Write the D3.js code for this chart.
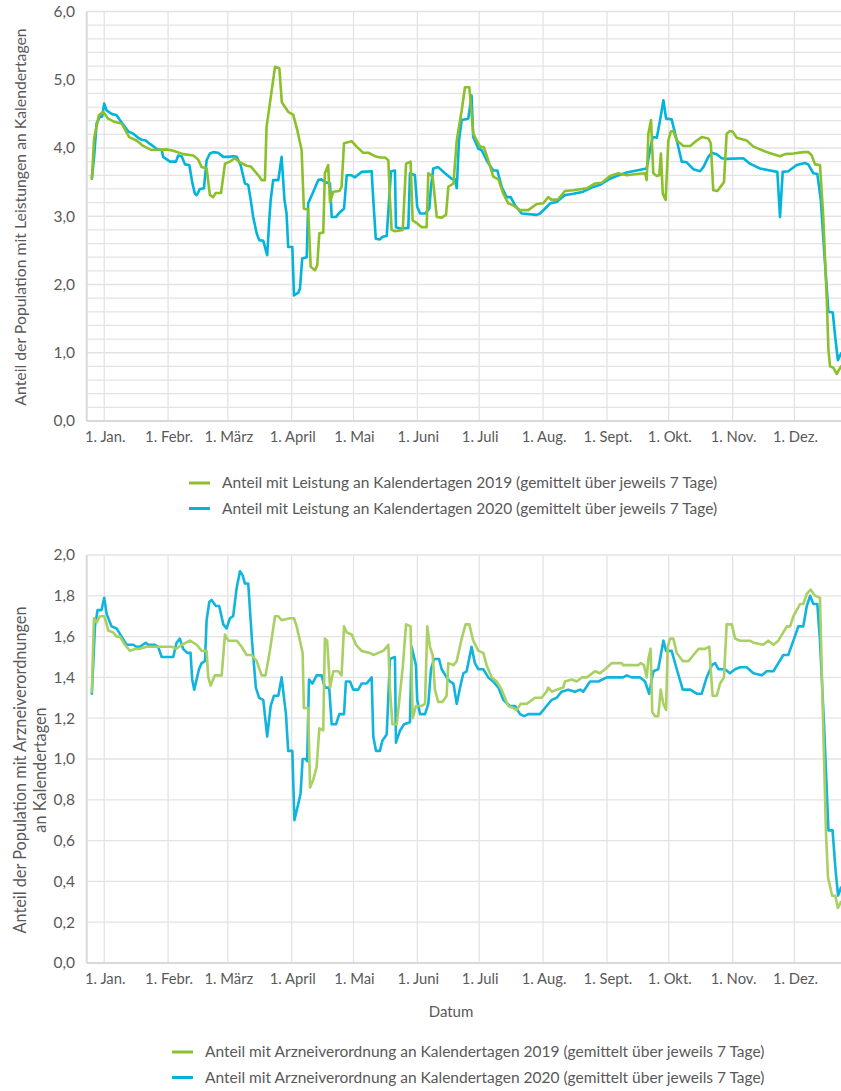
<!DOCTYPE html>
<html lang="de">
<meta charset="UTF-8">
<style>
    body { margin: 0; background: #fff; }
    text { font-family: Lato, "Open Sans", sans-serif; fill: #595959; }
    .grid line { stroke: #e3e3e3; stroke-width: 1.3px; }
    .axisline { stroke: #d9d9d9; stroke-width: 2px; }
    .serie { fill: none; stroke-width: 2.6px; stroke-linejoin: round; stroke-linecap: round; }
</style>
<body>
<svg id="chart" width="841" height="1091"></svg>
<script src="https://d3js.org/d3.v7.min.js"></script>
<script>
// month starts (day of year, 2020 calendar, 1. Jan = 0)
const monthDays = [0, 31, 60, 91, 121, 152, 182, 213, 244, 274, 305, 335];
const monthLabels = ["1. Jan.", "1. Febr.", "1. März", "1. April", "1. Mai", "1. Juni",
    "1. Juli", "1. Aug.", "1. Sept.", "1. Okt.", "1. Nov.", "1. Dez."];

const ticksTop = [0, 1, 2, 3, 4, 5, 6];
const ticksBottom = [0, 0.2, 0.4, 0.6, 0.8, 1.0, 1.2, 1.4, 1.6, 1.8, 2.0];

// [day, value]
const leistung2019 = [[-6,3.55],[-4.9,4.14],[-2.6,4.48],[-0.5,4.53],[1.9,4.43],[5.2,4.38],[8.4,4.36],[12.1,4.16],[15.7,4.11],[18.9,4.03],[23,3.97],[30.3,3.98],[33.5,3.96],[38.4,3.91],[43.2,3.89],[45.6,3.83],[47.3,3.72],[49.7,3.70],[51.3,3.31],[52.9,3.28],[54.1,3.34],[56.7,3.34],[58.6,3.77],[61,3.80],[63.4,3.85],[65.9,3.79],[69.1,3.74],[71.1,3.73],[74.8,3.60],[76.4,3.53],[78,3.53],[78.8,4.31],[80.4,4.65],[82.9,5.19],[85,5.17],[86.2,4.67],[89.3,4.53],[91.7,4.49],[93.8,4.25],[95.8,3.97],[96.9,3.11],[99,3.10],[100.2,2.26],[102.3,2.21],[103.4,2.28],[104.4,2.75],[106.3,2.76],[107.1,3.63],[108.7,3.75],[109.6,3.21],[111.2,3.36],[114.1,3.37],[115.2,3.43],[116.4,4.07],[120.1,4.10],[122.5,4.02],[125.7,3.93],[128.2,3.93],[131.4,3.88],[133.8,3.86],[136.3,3.86],[137.9,3.82],[138.7,3.24],[139.5,2.80],[141.1,2.78],[144.9,2.80],[146.5,3.77],[148.7,3.80],[149.7,2.94],[151.7,2.90],[154.1,2.84],[156.5,2.84],[157.3,3.63],[159.4,3.58],[161.4,2.99],[163.8,2.98],[165.9,3.02],[167,3.43],[169.5,3.48],[171.1,4.11],[173.5,4.55],[175.1,4.89],[177.2,4.89],[179.1,4.21],[182.4,4.02],[184.3,4.01],[186.4,3.82],[188.8,3.58],[191.3,3.54],[193.7,3.33],[196.1,3.19],[198.5,3.16],[201.8,3.09],[205.8,3.09],[209.9,3.18],[213.1,3.19],[215.5,3.28],[217.2,3.24],[220.4,3.25],[223.6,3.37],[227.7,3.38],[234.2,3.41],[238.2,3.48],[241.5,3.49],[245.5,3.59],[249.5,3.63],[253.6,3.60],[258.4,3.62],[262.5,3.63],[263.3,3.53],[264.1,4.21],[265.4,4.41],[266.5,3.63],[268.2,3.59],[269.4,3.60],[270.2,3.92],[271.1,3.33],[272.5,3.24],[273.8,4.11],[275,4.24],[276.2,4.25],[277.9,4.11],[281.1,4.03],[284.4,4.03],[287.6,4.11],[290,4.16],[293.2,4.14],[294.4,4.07],[295.6,3.38],[297.6,3.37],[300.8,3.50],[302.1,4.21],[303.7,4.25],[305,4.24],[307,4.15],[311.8,4.11],[315.1,4.02],[318.3,3.98],[321.5,3.94],[324.8,3.91],[328,3.88],[330.4,3.91],[334.5,3.92],[339.3,3.94],[341.8,3.94],[343.4,3.89],[345,3.76],[347.4,3.75],[349,2.99],[350.7,1.77],[351.5,1.04],[352.3,0.80],[353.9,0.78],[355.5,0.69],[357.6,0.80]];

const leistung2020 = [[-6,3.55],[-4.9,3.87],[-3.7,4.36],[-2.1,4.46],[-1,4.46],[0,4.65],[1.2,4.55],[3.6,4.50],[6,4.48],[7.6,4.41],[10,4.31],[11.7,4.24],[14.1,4.21],[16.5,4.15],[18.2,4.12],[20.2,4.11],[22.2,4.06],[25.4,3.99],[27.9,3.97],[28.6,3.87],[31.9,3.80],[34.8,3.80],[35.9,3.89],[37.6,3.88],[39.2,3.76],[41.3,3.75],[42.7,3.50],[44,3.33],[44.9,3.31],[46.5,3.40],[48.4,3.41],[49.7,3.82],[51.3,3.92],[52.9,3.94],[55.3,3.93],[57.8,3.87],[60.2,3.87],[62.6,3.88],[64.3,3.87],[66.2,3.75],[68.3,3.48],[69.9,3.46],[71.1,3.24],[72.3,2.99],[74,2.75],[75.2,2.65],[77.2,2.64],[79.1,2.43],[80.1,2.94],[80.8,3.24],[82,3.53],[84.5,3.53],[86.1,3.87],[87.5,3.24],[88.5,3.04],[89.3,2.55],[91.3,2.55],[92.1,1.84],[94.2,1.88],[95,1.94],[96.1,2.38],[98.3,2.40],[99,3.19],[101.5,3.36],[103.9,3.53],[105.5,3.54],[107.1,3.50],[109.6,3.48],[110.4,2.99],[112.5,2.99],[114.4,3.06],[116.4,3.11],[117.7,3.60],[120.1,3.60],[121.7,3.57],[125,3.65],[129.8,3.66],[130.6,3.24],[131.8,2.67],[133.8,2.66],[135.1,2.70],[137.1,2.71],[139.2,3.66],[141.1,3.67],[141.6,2.84],[143.6,2.82],[147.6,2.83],[148.4,3.63],[150.8,3.60],[151.9,3.14],[153.3,3.04],[155.7,3.04],[157.8,3.11],[158.6,3.43],[159.7,3.70],[162.1,3.72],[165.4,3.63],[168.6,3.55],[170.2,3.54],[171.1,3.41],[172.2,4.11],[173.5,4.41],[176.7,4.43],[178.3,4.77],[179.1,4.16],[181.6,3.99],[183.2,3.97],[185.6,3.82],[188.8,3.67],[190.8,3.67],[192.9,3.43],[195.3,3.28],[197.3,3.28],[199.4,3.16],[202.6,3.04],[209.9,3.02],[211.5,3.04],[213.9,3.11],[216.4,3.19],[219.6,3.21],[223.6,3.31],[227.7,3.33],[232.5,3.36],[237.4,3.43],[240.6,3.46],[245.5,3.55],[248.7,3.59],[253.6,3.64],[258.4,3.67],[263.3,3.70],[264.9,3.97],[266.2,4.16],[268.2,4.15],[269.8,4.41],[271.4,4.70],[272.7,4.43],[275.4,4.42],[277.9,4.11],[280.3,3.80],[282.7,3.79],[285.9,3.69],[289.2,3.66],[290.8,3.72],[293.2,3.87],[294.9,3.93],[297.3,3.91],[299.7,3.85],[302.1,3.84],[310.2,3.85],[313.4,3.77],[318.3,3.70],[323.1,3.67],[326.7,3.65],[328,2.99],[329.3,3.65],[332,3.66],[336.1,3.75],[340.1,3.78],[341.7,3.76],[344.2,3.63],[346.1,3.62],[347.8,3.24],[349.4,2.50],[351.5,1.60],[353.6,1.59],[354.8,1.23],[356.1,0.89],[357.6,0.99]];

const arznei2019 = [[-6,1.33],[-5,1.69],[-3.7,1.67],[-2.1,1.70],[0,1.70],[1.2,1.66],[1.9,1.63],[4.4,1.62],[6,1.60],[7.6,1.60],[10,1.56],[12.5,1.53],[14.9,1.54],[17.3,1.54],[20.6,1.55],[23.8,1.55],[30.3,1.55],[32.7,1.55],[35.1,1.54],[37.6,1.56],[41.6,1.58],[44.9,1.56],[47.3,1.53],[49.7,1.53],[50.5,1.40],[51.7,1.36],[53.7,1.41],[57,1.41],[58.6,1.61],[60.2,1.58],[64.3,1.58],[66.7,1.55],[69.1,1.51],[71.6,1.51],[74,1.48],[76.4,1.41],[78.3,1.41],[80.4,1.53],[82.9,1.70],[84.5,1.70],[86.1,1.68],[90.1,1.69],[92.1,1.69],[93.4,1.65],[95,1.58],[96.3,1.52],[96.9,1.25],[99,1.25],[99.9,0.86],[101.5,0.90],[103.1,0.96],[104.4,1.15],[106.3,1.14],[107.1,1.59],[108.2,1.58],[109.6,1.35],[111.2,1.43],[113.6,1.43],[115.2,1.41],[116.4,1.65],[117.7,1.62],[120.1,1.61],[122.2,1.56],[124.9,1.53],[128.9,1.52],[130.6,1.51],[133,1.52],[135.5,1.53],[137.9,1.56],[138.7,1.34],[139.9,1.17],[142,1.17],[144.9,1.45],[146.5,1.66],[148.7,1.65],[149.7,1.20],[151.3,1.26],[154.1,1.26],[155.7,1.27],[156.8,1.65],[158.1,1.55],[159.4,1.51],[160.5,1.34],[162.1,1.28],[164.2,1.28],[166.2,1.31],[167,1.47],[169.5,1.46],[171.1,1.48],[173.5,1.59],[175.4,1.66],[177.2,1.66],[179.1,1.58],[181.6,1.53],[184,1.52],[185.6,1.46],[188.1,1.40],[190.5,1.38],[192.9,1.34],[196.1,1.26],[198.5,1.25],[200.2,1.24],[202.1,1.27],[205,1.27],[209.1,1.30],[212.3,1.30],[214.7,1.33],[215.5,1.35],[217.2,1.33],[219.6,1.34],[222.8,1.35],[223.6,1.38],[226.9,1.39],[229.3,1.38],[231.8,1.40],[234.2,1.40],[238.2,1.43],[240.6,1.42],[243.1,1.44],[246.3,1.47],[251.2,1.47],[251.9,1.46],[259.2,1.46],[260.4,1.47],[262,1.46],[263.3,1.40],[264.1,1.49],[265.2,1.54],[266,1.23],[267.3,1.21],[268.9,1.21],[270.1,1.34],[271.4,1.27],[272.7,1.24],[273.5,1.55],[274.6,1.59],[276.2,1.59],[277.9,1.52],[280.8,1.48],[283.6,1.48],[286,1.51],[288.5,1.54],[291.6,1.54],[293.7,1.55],[294.5,1.42],[295.3,1.31],[297.3,1.31],[298.9,1.37],[300.8,1.40],[302.1,1.66],[304.6,1.66],[306.2,1.59],[308.6,1.58],[313.4,1.58],[315.1,1.57],[319.9,1.56],[322.3,1.58],[324.8,1.56],[327.2,1.58],[331.3,1.65],[332.9,1.65],[334.5,1.70],[337.8,1.76],[339.3,1.76],[341,1.81],[342.9,1.83],[345,1.80],[347.4,1.79],[348.7,1.26],[350.3,0.64],[351.3,0.42],[353.3,0.33],[354.8,0.33],[356.1,0.27],[357.6,0.30]];

const arznei2020 = [[-6,1.32],[-4.5,1.65],[-3.2,1.73],[-1.3,1.73],[0,1.79],[1.2,1.71],[3.6,1.65],[6,1.64],[8.4,1.60],[10.9,1.56],[14.1,1.56],[15.7,1.55],[17.3,1.55],[20.1,1.57],[21.4,1.56],[24.6,1.56],[26.2,1.55],[27.9,1.50],[30.3,1.50],[33.5,1.50],[35.1,1.57],[36.7,1.59],[38.3,1.54],[40.3,1.52],[41.9,1.52],[42.7,1.39],[43.7,1.34],[46,1.44],[47.3,1.47],[48.9,1.48],[49.7,1.68],[51,1.77],[52.1,1.78],[54.2,1.75],[55.8,1.75],[57.8,1.66],[59.4,1.64],[61,1.69],[62.6,1.70],[64.3,1.84],[65.9,1.92],[67.2,1.90],[68.3,1.86],[69.9,1.86],[71.8,1.57],[73.6,1.35],[75.2,1.30],[77.2,1.29],[79.1,1.11],[80.8,1.26],[82.4,1.31],[84.5,1.31],[86.1,1.40],[88.2,1.22],[89.3,1.04],[91.3,1.04],[92.3,0.70],[94.2,0.78],[95.3,0.83],[96.3,1.00],[97.9,1.00],[98.5,0.99],[99.4,1.39],[101,1.37],[103.1,1.41],[105.5,1.41],[107.1,1.35],[109.2,1.35],[110.4,1.17],[112.5,1.17],[114.1,1.22],[116.4,1.22],[117.3,1.38],[119.3,1.38],[120.9,1.34],[123.3,1.34],[124.9,1.37],[127.4,1.37],[129.8,1.40],[130.6,1.11],[131.9,1.04],[133.8,1.04],[135,1.09],[137.1,1.12],[138.7,1.49],[141.1,1.50],[141.6,1.08],[143.6,1.14],[145.5,1.17],[148.4,1.18],[149.2,1.55],[151.3,1.46],[151.9,1.29],[153.3,1.22],[155.7,1.22],[157.3,1.27],[158.6,1.44],[160.1,1.49],[162.5,1.49],[163.8,1.44],[166.2,1.40],[167.8,1.38],[169.5,1.37],[171.1,1.27],[172.7,1.35],[174.3,1.42],[175.9,1.43],[178.3,1.55],[179.9,1.47],[181.6,1.44],[184,1.44],[186.4,1.40],[188.8,1.38],[191.3,1.35],[193.7,1.29],[196.9,1.26],[199.4,1.26],[201.8,1.22],[203.8,1.21],[205.8,1.22],[211.5,1.22],[214.7,1.26],[217.2,1.29],[219.6,1.30],[222,1.33],[225.2,1.34],[228.5,1.33],[230.9,1.34],[232.5,1.33],[235.8,1.38],[239.8,1.38],[243.9,1.40],[251.9,1.40],[253.6,1.41],[256,1.40],[260.1,1.40],[262.5,1.38],[264.5,1.32],[266.5,1.43],[268.9,1.44],[271.4,1.58],[272.7,1.53],[275.4,1.53],[277.9,1.44],[280.8,1.34],[284.4,1.34],[287.6,1.32],[290,1.32],[292.4,1.40],[294.9,1.46],[296.5,1.47],[298.1,1.44],[301.3,1.44],[303.7,1.42],[306.2,1.44],[308.6,1.45],[311.8,1.45],[315.1,1.42],[319.2,1.41],[321.5,1.43],[324.8,1.43],[327.2,1.47],[329.6,1.51],[332,1.51],[334.5,1.58],[336.9,1.65],[339.3,1.65],[341,1.75],[342.6,1.80],[344.2,1.76],[346.1,1.76],[347.4,1.58],[349.4,1.16],[351.5,0.65],[353.5,0.65],[355,0.45],[356.2,0.33],[357.6,0.37]];

const svg = d3.select('#chart');
const x = d3.scaleLinear().domain([-8.5, 357.6]).range([86.7, 841]);

function panel(cfg) {
    const y = d3.scaleLinear().domain(cfg.domain).range([cfg.bottom, cfg.top]);
    const g = svg.append('g');

    // horizontal grid every 0.2
    const hLines = d3.range(0, cfg.domain[1] + 0.001, 0.2);
    g.append('g').attr('class', 'grid').selectAll('line').data(hLines)
        .enter().append('line')
            .attr('x1', x.range()[0]).attr('x2', 841)
            .attr('y1', d => y(d)).attr('y2', d => y(d));
    // vertical grid at month starts
    g.append('g').attr('class', 'grid').selectAll('line').data(monthDays)
        .enter().append('line')
            .attr('x1', d => x(d)).attr('x2', d => x(d))
            .attr('y1', cfg.top).attr('y2', cfg.bottom);

    g.append('line').attr('class', 'axisline')
        .attr('x1', x.range()[0]).attr('x2', x.range()[0])
        .attr('y1', cfg.top).attr('y2', cfg.bottom);
    g.append('line').attr('class', 'axisline')
        .attr('x1', x.range()[0]).attr('x2', 841)
        .attr('y1', cfg.bottom).attr('y2', cfg.bottom);

    // y tick labels
    g.selectAll('.ylab').data(cfg.ticks)
        .enter().append('text')
            .attr('x', 75).attr('y', d => y(d))
            .attr('dy', '0.35em').attr('text-anchor', 'end')
            .attr('font-size', '15.5px')
            .text(d => d3.format('.1f')(d).replace('.', ','));
    // x tick labels
    g.selectAll('.xlab').data(monthDays)
        .enter().append('text')
            .attr('x', (d, i) => x(d) + 1).attr('y', cfg.bottom + 21)
            .attr('text-anchor', 'middle').attr('font-size', '14.8px')
            .text((d, i) => monthLabels[i]);

    const line = d3.line().x(d => x(d[0])).y(d => y(d[1]));
    g.append('path').datum(cfg.s2020).attr('class', 'serie')
        .attr('stroke', cfg.c2020).attr('d', line);
    g.append('path').datum(cfg.s2019).attr('class', 'serie')
        .attr('stroke', cfg.c2019).attr('d', line);

    // y title
    cfg.title.forEach((t, i) => {
        g.append('text')
            .attr('transform', `translate(${cfg.titleX[i]},${cfg.titleY}) rotate(-90)`)
            .attr('text-anchor', 'middle').attr('dy', '0.35em')
            .attr('font-size', cfg.titleSize)
            .text(t);
    });

    // legend
    cfg.legend.forEach((t, i) => {
        const ly = cfg.legendY + i * 25.5;
        g.append('line')
            .attr('x1', cfg.legendX).attr('x2', cfg.legendX + 21)
            .attr('y1', ly).attr('y2', ly)
            .attr('stroke', i == 0 ? cfg.legendC[0] : cfg.legendC[1])
            .attr('stroke-width', 3);
        g.append('text')
            .attr('x', cfg.legendX + 33).attr('y', ly)
            .attr('dy', '0.35em').attr('font-size', '15.5px')
            .text(t);
    });
}

panel({
    domain: [0, 6], top: 11.5, bottom: 421, ticks: ticksTop,
    s2019: leistung2019, s2020: leistung2020,
    c2019: '#8cc02a', c2020: '#00b4dc',
    title: ['Anteil der Population mit Leistungen an Kalendertagen'],
    titleX: [20], titleY: 217, titleSize: '15.8px',
    legend: ['Anteil mit Leistung an Kalendertagen 2019 (gemittelt über jeweils 7 Tage)',
             'Anteil mit Leistung an Kalendertagen 2020 (gemittelt über jeweils 7 Tage)'],
    legendX: 189, legendY: 483, legendC: ['#8cc02a', '#00b4dc']
});

panel({
    domain: [0, 2], top: 555, bottom: 963, ticks: ticksBottom,
    s2019: arznei2019, s2020: arznei2020,
    c2019: '#a8d063', c2020: '#10b4dc',
    title: ['Anteil der Population mit Arzneiverordnungen', 'an Kalendertagen'],
    titleX: [20, 40], titleY: 770, titleSize: '16.3px',
    legend: ['Anteil mit Arzneiverordnung an Kalendertagen 2019 (gemittelt über jeweils 7 Tage)',
             'Anteil mit Arzneiverordnung an Kalendertagen 2020 (gemittelt über jeweils 7 Tage)'],
    legendX: 172, legendY: 1052, legendC: ['#8cc02a', '#00b4dc']
});

svg.append('text')
    .attr('x', 451).attr('y', 1012).attr('dy', '0.35em')
    .attr('text-anchor', 'middle').attr('font-size', '15px')
    .text('Datum');
</script>
</body>
</html>
